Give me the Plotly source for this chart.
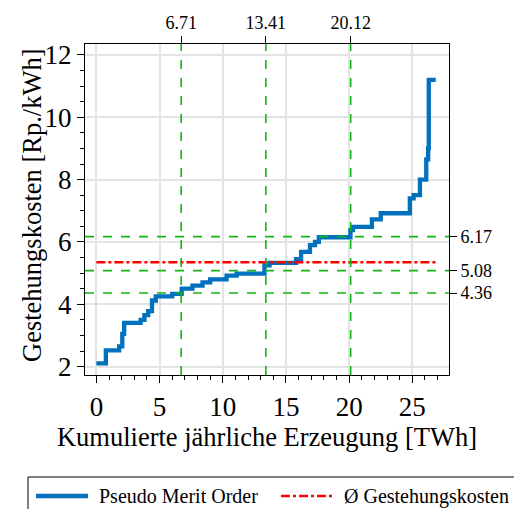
import plotly.graph_objects as go

# Pseudo merit order: cumulative annual generation where each cost level starts [TWh]
step_start_twh = [0.0, 0.75, 1.8, 2.05, 2.2, 3.5, 3.8, 4.1, 4.4, 4.7, 6.0, 6.75,
                  7.6, 8.4, 9.0, 10.3, 11.1, 13.3, 13.7, 15.8, 16.2, 16.9, 17.3,
                  17.6, 20.1, 20.3, 21.8, 22.5, 24.8, 25.1, 25.6, 26.1, 26.25, 26.3]
# Production cost of each level [Rp./kWh]
step_cost = [2.1, 2.52, 2.65, 3.05, 3.4, 3.5, 3.65, 3.78, 4.12, 4.25, 4.33, 4.5,
             4.6, 4.7, 4.8, 4.92, 4.98, 5.25, 5.33, 5.45, 5.68, 5.9, 6.0,
             6.15, 6.38, 6.48, 6.72, 6.92, 7.4, 7.5, 8.0, 8.65, 9.0, 11.2]
total_twh = 26.85

mean_cost = 5.35
quartile_twh = [6.71, 13.41, 20.12]
quartile_cost = [4.36, 5.08, 6.17]

x_ticks = [0, 5, 10, 15, 20, 25]
y_ticks = [2, 4, 6, 8, 10, 12]
x_range = [-0.9, 27.9]
y_range = [1.73, 12.35]

BLUE = "#0072bd"
GREEN = "#11b811"
RED = "#ff0000"
FONT = "Liberation Serif"

curve_x = step_start_twh + [total_twh]
curve_y = step_cost + [step_cost[-1]]

fig = go.Figure()
fig.add_trace(go.Scatter(
    x=curve_x, y=curve_y, mode="lines", line_shape="hv",
    line=dict(color=BLUE, width=4.3), name="Pseudo Merit Order", showlegend=False))
fig.add_trace(go.Scatter(
    x=[0, total_twh], y=[mean_cost, mean_cost], mode="lines",
    line=dict(color=RED, width=2.5, dash="dashdot"),
    name="Ø Gestehungskosten", showlegend=False))

# helper traces that carry the top and right axes
fig.add_trace(go.Scatter(x=quartile_twh, y=[mean_cost] * 3, xaxis="x2", yaxis="y",
                         mode="markers", opacity=0, showlegend=False, hoverinfo="skip"))
fig.add_trace(go.Scatter(x=[0] * 3, y=quartile_cost, xaxis="x", yaxis="y2",
                         mode="markers", opacity=0, showlegend=False, hoverinfo="skip"))

# quartile guide lines
for xv in quartile_twh:
    fig.add_shape(type="line", xref="x", yref="paper", x0=xv, x1=xv, y0=0, y1=1,
                  line=dict(color=GREEN, width=1.6, dash="dash"), layer="above")
for yv in quartile_cost:
    fig.add_shape(type="line", xref="paper", yref="y", x0=0, x1=1, y0=yv, y1=yv,
                  line=dict(color=GREEN, width=1.6, dash="dash"), layer="above")

axis_common = dict(showline=True, linecolor="black", linewidth=1.2,
                   ticks="outside", tickcolor="black", tickwidth=1.2, ticklen=7,
                   tickfont=dict(family=FONT, size=27, color="black"),
                   zeroline=False)

fig.update_layout(
    width=514, height=509,
    margin=dict(l=85, r=65, t=44, b=134),
    paper_bgcolor="white", plot_bgcolor="white",
    font=dict(family=FONT, color="black"),
    xaxis=dict(range=x_range, tickvals=x_ticks, mirror=True,
               showgrid=True, gridcolor="#e3e3e3", gridwidth=2,
               minor=dict(dtick=1, tick0=0, ticks="outside", ticklen=4,
                          tickcolor="black", showgrid=False),
               title=dict(text="Kumulierte jährliche Erzeugung [TWh]",
                          font=dict(family=FONT, size=26.5, color="black"), standoff=6),
               **axis_common),
    yaxis=dict(range=y_range, tickvals=y_ticks, mirror=True,
               showgrid=True, gridcolor="#e3e3e3", gridwidth=2,
               minor=dict(dtick=0.5, tick0=0, ticks="outside", ticklen=4,
                          tickcolor="black", showgrid=False),
               **axis_common),
    xaxis2=dict(overlaying="x", side="top", range=x_range, tickvals=quartile_twh,
                ticktext=[f"{v:.2f}" for v in quartile_twh], showgrid=False,
                zeroline=False, showline=False, ticks="outside", ticklen=7,
                tickcolor="black", tickwidth=1.2,
                tickfont=dict(family=FONT, size=18, color="black")),
    yaxis2=dict(overlaying="y", side="right", range=y_range, tickvals=quartile_cost,
                ticktext=[f"{v:.2f}" for v in quartile_cost], showgrid=False,
                zeroline=False, showline=False, ticks="outside", ticklen=7,
                tickcolor="black", tickwidth=1.2,
                tickfont=dict(family=FONT, size=18, color="black")),
)

# pixel positions converted to paper coordinates
pw, ph = 514 - 85 - 65, 509 - 44 - 134


def px(xp):
    return (xp - 85) / pw


def py(yp):
    return (509 - 134 - yp) / ph


# y-axis title
fig.add_annotation(xref="paper", yref="paper", x=px(32), y=py(205),
                   text="Gestehungskosten [Rp./kWh]", textangle=-90, showarrow=False,
                   xanchor="center", yanchor="middle",
                   font=dict(family=FONT, size=26.5, color="black"))

# legend box
fig.add_shape(type="rect", xref="paper", yref="paper",
              x0=px(28), x1=px(530), y0=py(477), y1=py(520),
              line=dict(color="black", width=1), fillcolor="white")
fig.add_shape(type="line", xref="paper", yref="paper",
              x0=px(36), x1=px(88), y0=py(496), y1=py(496),
              line=dict(color=BLUE, width=4.3))
fig.add_shape(type="line", xref="paper", yref="paper",
              x0=px(281), x1=px(333), y0=py(496), y1=py(496),
              line=dict(color=RED, width=2.5, dash="dashdot"))
fig.add_annotation(xref="paper", yref="paper", x=px(97), y=py(496),
                   text="Pseudo Merit Order", showarrow=False,
                   xanchor="left", yanchor="middle",
                   font=dict(family=FONT, size=20, color="black"))
fig.add_annotation(xref="paper", yref="paper", x=px(342), y=py(496),
                   text="Ø Gestehungskosten", showarrow=False,
                   xanchor="left", yanchor="middle",
                   font=dict(family=FONT, size=20, color="black"))

fig.write_html("out.html")
